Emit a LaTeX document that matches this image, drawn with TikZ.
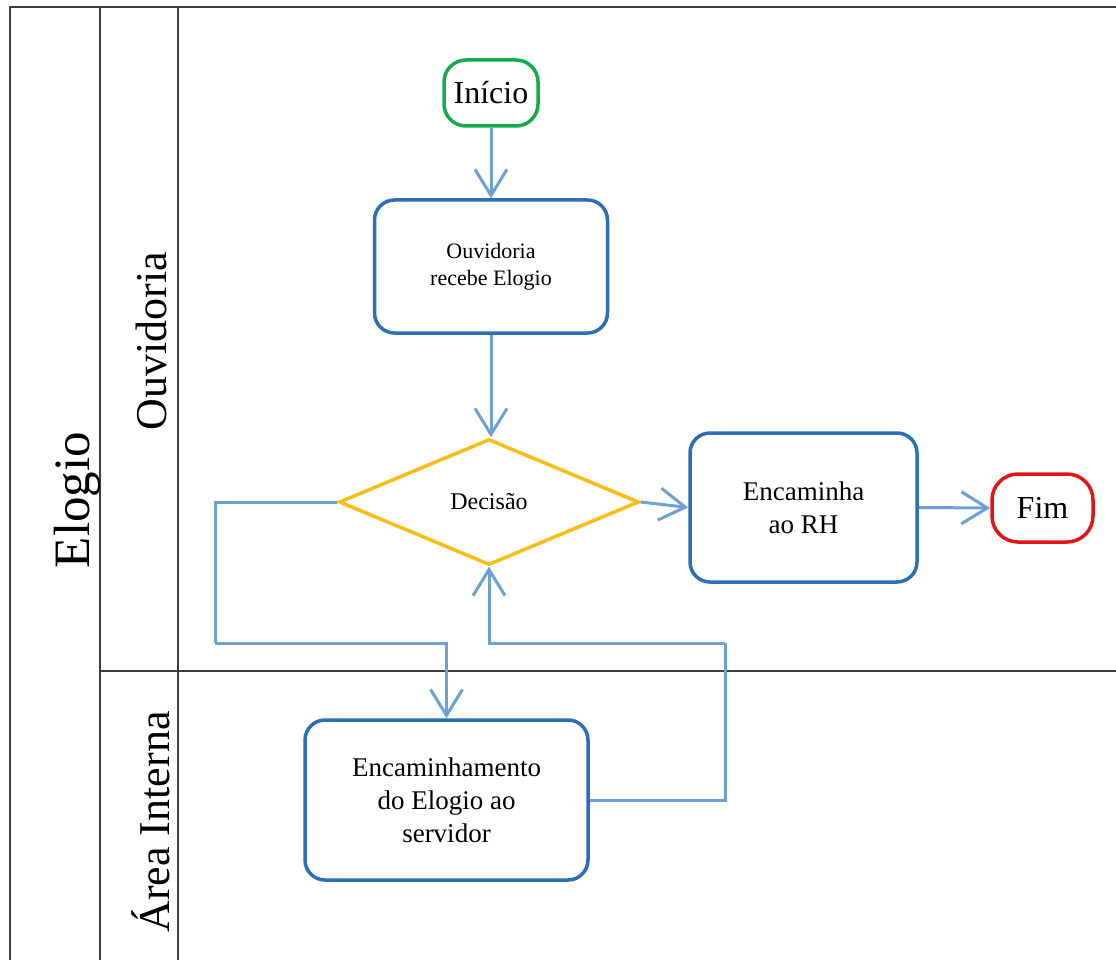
\documentclass[tikz,border=0pt]{standalone}
\usepackage{fontspec}
\setmainfont{Liberation Serif}
\usetikzlibrary{shapes.geometric,arrows.meta}
\definecolor{boxblue}{RGB}{46,110,180}
\definecolor{flowblue}{RGB}{110,160,210}
\definecolor{gold}{RGB}{245,190,20}
\definecolor{startgreen}{RGB}{20,170,80}
\definecolor{endred}{RGB}{225,20,20}
\definecolor{laneline}{RGB}{60,60,60}
\begin{document}
\begin{tikzpicture}[x=1pt,y=-1pt,
  lane/.style={draw=laneline,line width=2pt},
  lanelabel/.style={rotate=90,font=\fontsize{44}{48}\selectfont,inner sep=0pt},
  procbox/.style={draw=boxblue,line width=3.5pt,rounded corners=20pt,align=center,fill=white},
  terminal/.style={rounded corners=22pt,line width=3.5pt,fill=white,font=\fontsize{32}{36}\selectfont},
  decision/.style={diamond,draw=gold,line width=3.5pt,inner sep=0pt,fill=white,font=\fontsize{24}{28}\selectfont},
  flow/.style={draw=flowblue,line width=3pt,-{Straight Barb[length=26pt,width=32pt]}},
  flowline/.style={draw=flowblue,line width=3pt}
]
\useasboundingbox (0,0) rectangle (1116,960);
\fill[white] (0,0) rectangle (1116,960);

% swimlane frame
\coordinate (tl) at (10,7);
\coordinate (tr) at (1116,7);
\coordinate (bl) at (10,960);
\coordinate (p1t) at (100,7);
\coordinate (p1b) at (100,960);
\coordinate (p2t) at (178,7);
\coordinate (p2b) at (178,960);
\coordinate (hl) at (100,671);
\coordinate (hr) at (1116,671);
\draw[lane] (tr) -- (tl) -- (bl);
\draw[lane] (p1t) -- (p1b);
\draw[lane] (p2t) -- (p2b);
\draw[lane] (hl) -- (hr);

% lane titles
\node[lanelabel,font=\fontsize{51}{55}\selectfont] (lpool) at (77,500) {Elogio};
\node[lanelabel] (louv) at (151,341) {Ouvidoria};
\node[lanelabel] (lint) at (151,822) {Área Interna};

% flow nodes
\node[terminal,draw=startgreen,minimum width=94pt,minimum height=66pt] (ini) at (491,93) {Início};
\node[procbox,minimum width=233pt,minimum height=133pt,font=\fontsize{22}{27}\selectfont] (ouv) at (491,266.5) {Ouvidoria\\recebe Elogio};
\node[decision,minimum width=300pt,minimum height=126pt] (dec) at (489,502) {Decisão};
\node[procbox,minimum width=227pt,minimum height=149pt,font=\fontsize{27}{33}\selectfont] (enc) at (803.5,507.5) {Encaminha\\ao RH};
\node[terminal,draw=endred,minimum width=101pt,minimum height=68pt,rounded corners=26pt] (fim) at (1042.5,508) {Fim};
\node[procbox,minimum width=283pt,minimum height=160pt,font=\fontsize{27}{33}\selectfont] (int) at (446.5,800) {Encaminhamento\\do Elogio ao\\servidor};

% bend points of the loop between the lanes
\coordinate (lbend) at (215,643);
\coordinate (rbend) at (725,643);

% connectors
\draw[flow] (ini.south) -- (ouv.north);
\draw[flow] (ouv.south) -- (ouv.south |- dec.north);
\draw[flow] (dec.east) -- (enc.west);
\draw[flow] (enc.east) -- (fim.west);
\draw[flowline] (dec.west) -| (lbend);
\draw[flow] (lbend) -| (int.north);
\draw[flowline] (int.east) -| (rbend);
\draw[flow] (rbend) -| (dec.south);
\end{tikzpicture}
\end{document}
